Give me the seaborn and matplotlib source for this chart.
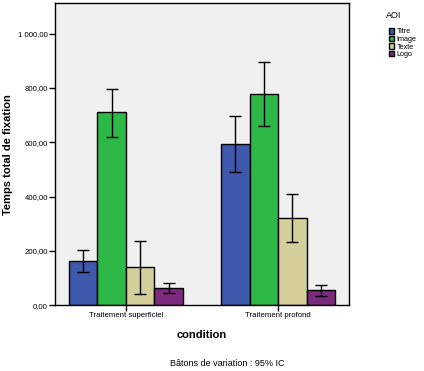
import pandas as pd
import matplotlib
matplotlib.use("Agg")
import matplotlib.pyplot as plt
from matplotlib.ticker import FuncFormatter
import seaborn as sns

# values
conditions = ["Traitement superficiel", "Traitement profond"]
aois = ["Titre", "Image", "Texte", "Logo"]
mean_superficiel = [162, 711, 140, 62]
mean_profond = [593, 777, 320, 55]
low_superficiel = [121, 618, 40, 44]
high_superficiel = [202, 797, 236, 81]
low_profond = [490, 659, 232, 33]
high_profond = [696, 895, 409, 74]
colors = ["#3E58AC", "#2EB848", "#D4CF9A", "#7B2A7D"]

df = pd.DataFrame({
    "condition": [conditions[0]] * 4 + [conditions[1]] * 4,
    "AOI": aois * 2,
    "temps": mean_superficiel + mean_profond,
    "low": low_superficiel + low_profond,
    "high": high_superficiel + high_profond,
})

sns.set_style("white", {"text.color": "black", "axes.labelcolor": "black",
                        "xtick.color": "black", "ytick.color": "black"})
plt.rcParams["font.family"] = ["Liberation Sans", "DejaVu Sans"]

fig = plt.figure(figsize=(4.24, 3.71), dpi=100)
ax = fig.add_axes([55 / 424, 1 - 305.3 / 371, 294 / 424, 302.3 / 371])
ax.set_facecolor("#F0F0F0")

sns.barplot(data=df, x="condition", y="temps", hue="AOI", order=conditions,
            hue_order=aois, palette=colors, errorbar=None, width=0.75,
            edgecolor="black", linewidth=1, saturation=1, ax=ax)

# confidence intervals drawn at the bar centres
for container, aoi in zip(ax.containers, aois):
    sub = df[df["AOI"] == aoi].set_index("condition").loc[conditions]
    xs = [p.get_x() + p.get_width() / 2 for p in container.patches]
    ys = sub["temps"].values
    yerr = [ys - sub["low"].values, sub["high"].values - ys]
    ax.errorbar(xs, ys, yerr=yerr, fmt="none", ecolor="black",
                elinewidth=1, capsize=4, capthick=1)

ax.set_xlim(-0.467, 1.467)
ax.set_ylim(0, 1113)
ax.set_yticks([0, 200, 400, 600, 800, 1000])
ax.yaxis.set_major_formatter(FuncFormatter(
    lambda v, p: f"{v:,.2f}".replace(",", " ").replace(".", ",")))
ax.tick_params(axis="both", direction="out", length=4, width=1,
               color="black", labelcolor="black", labelsize=5.6, pad=1,
               left=True, bottom=True)
for s in ax.spines.values():
    s.set_color("black")
    s.set_linewidth(1)

ax.set_ylabel("Temps total de fixation", fontsize=8, fontweight="bold",
              color="black")
ax.yaxis.set_label_coords(-0.143, 0.5)
ax.set_xlabel("condition", fontsize=8, fontweight="bold", labelpad=8,
              color="black")

# legend outside on the right, title placed separately like the original
handles, labels = ax.get_legend_handles_labels()
leg = ax.legend(handles, labels, loc="upper left",
                bbox_to_anchor=(389 / 424, 1 - 28 / 371),
                bbox_transform=fig.transFigure, frameon=False, fontsize=5.2,
                handlelength=0.75, handleheight=0.8, handletextpad=0.3,
                labelspacing=0.05, borderaxespad=0, borderpad=0)
for t in leg.get_texts():
    t.set_color("black")
fig.text(394 / 424, 1 - 15 / 371, "AOI", fontsize=6.5, ha="center",
         va="center", color="black")

fig.text(227 / 424, 1 - 364 / 371, "Bâtons de variation : 95% IC",
         fontsize=6.5, ha="center", va="center", color="black")

fig.savefig("out.png", dpi=100)
